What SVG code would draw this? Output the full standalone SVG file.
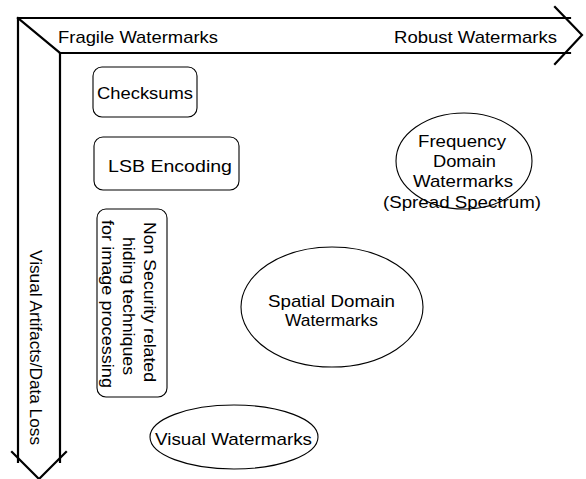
<svg xmlns="http://www.w3.org/2000/svg" width="586" height="479" viewBox="0 0 586 479">
<style>
text{font-family:"Liberation Sans",Arial,sans-serif;font-size:17px;fill:#000}
.ax{fill:none;stroke:#000;stroke-width:2.2;stroke-linecap:square}
.box{fill:#fff;stroke:#000;stroke-width:1.1}
</style>
<rect width="586" height="479" fill="#fff"/>
<g id="connectors">
<g id="axis-horizontal">
<path class="ax" d="M18 18 L570 18 M60 53 L570 53 M18 18 L60 53"/>
<polyline class="ax" points="555,7 582,35 555,64"/>
</g>
<g id="axis-vertical">
<path class="ax" d="M18 18 L18 462 M60 53 L60 462"/>
<polyline class="ax" points="12,452 39,479 66,452"/>
</g>
</g>
<g id="label-fragile"><text x="58" y="43" textLength="160" lengthAdjust="spacingAndGlyphs">Fragile Watermarks</text></g>
<g id="label-robust"><text x="394" y="43" textLength="163" lengthAdjust="spacingAndGlyphs">Robust Watermarks</text></g>
<g id="label-visual-artifacts"><text transform="translate(30,250) rotate(90)" textLength="195" lengthAdjust="spacingAndGlyphs">Visual Artifacts/Data Loss</text></g>
<g id="checksums">
<rect class="box" x="93" y="67" width="104" height="50" rx="9"/>
<text x="97" y="99" textLength="96" lengthAdjust="spacingAndGlyphs">Checksums</text>
</g>
<g id="lsb-encoding">
<rect class="box" x="94" y="137" width="145" height="53" rx="9"/>
<text x="108" y="172" textLength="124" lengthAdjust="spacingAndGlyphs">LSB Encoding</text>
</g>
<g id="non-security">
<rect class="box" x="97" y="209" width="70" height="188" rx="9"/>
<text transform="translate(144,222) rotate(90)" textLength="160" lengthAdjust="spacingAndGlyphs">Non Security related</text>
<text transform="translate(123,237) rotate(90)" textLength="138" lengthAdjust="spacingAndGlyphs">hiding techniques</text>
<text transform="translate(102,220) rotate(90)" textLength="168" lengthAdjust="spacingAndGlyphs">for image processing</text>
</g>
<g id="frequency-domain">
<ellipse class="box" style="fill:none" cx="464" cy="161" rx="68" ry="48"/>
<text x="418" y="147" textLength="88" lengthAdjust="spacingAndGlyphs">Frequency</text>
<text x="433" y="167" textLength="63" lengthAdjust="spacingAndGlyphs">Domain</text>
<text x="413" y="187" textLength="100" lengthAdjust="spacingAndGlyphs">Watermarks</text>
<text x="383" y="208" textLength="158" lengthAdjust="spacingAndGlyphs">(Spread Spectrum)</text>
</g>
<g id="spatial-domain">
<ellipse class="box" cx="332" cy="307" rx="91" ry="60"/>
<text x="268" y="307" textLength="127" lengthAdjust="spacingAndGlyphs">Spatial Domain</text>
<text x="285" y="326" textLength="93" lengthAdjust="spacingAndGlyphs">Watermarks</text>
</g>
<g id="visual-watermarks">
<ellipse class="box" cx="234" cy="437" rx="84" ry="32"/>
<text x="155" y="445" textLength="157" lengthAdjust="spacingAndGlyphs">Visual Watermarks</text>
</g>
</svg>
